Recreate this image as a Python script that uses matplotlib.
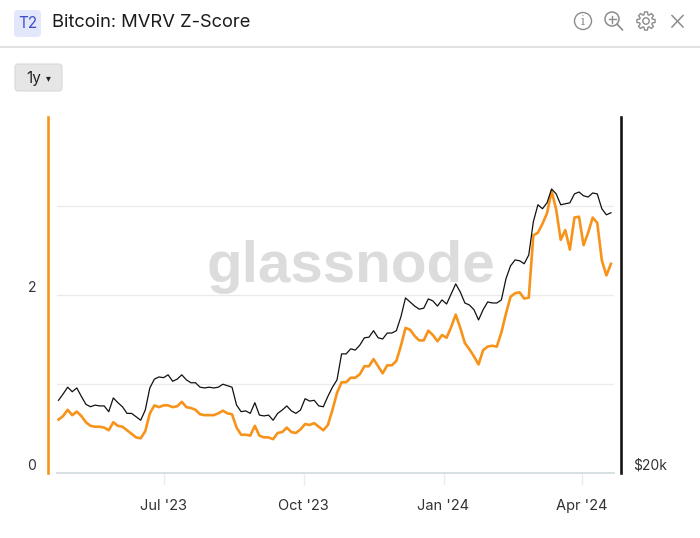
import matplotlib
matplotlib.use('Agg')
import matplotlib.pyplot as plt
import matplotlib.ticker as mticker
from matplotlib.patches import FancyBboxPatch, Circle, Polygon
from matplotlib.transforms import ScaledTranslation
import pandas as pd
import numpy as np

plt.rcParams['font.family'] = ['Inter', 'DejaVu Sans']

start_date = '2023-04-23'
sample_step = '3D'
x_start, x_end = '2023-04-22', '2024-04-22'

# MVRV Z-Score (left axis, orange)
zscore = [0.60, 0.64, 0.71, 0.65, 0.69, 0.64, 0.57, 0.53, 0.52, 0.52,
          0.51, 0.48, 0.57, 0.53, 0.52, 0.48, 0.44, 0.40, 0.39, 0.47,
          0.67, 0.76, 0.74, 0.76, 0.76, 0.74, 0.75, 0.80, 0.74, 0.73,
          0.71, 0.66, 0.65, 0.65, 0.65, 0.67, 0.70, 0.67, 0.66, 0.51,
          0.43, 0.43, 0.42, 0.53, 0.42, 0.40, 0.40, 0.38, 0.45, 0.46,
          0.51, 0.46, 0.45, 0.49, 0.55, 0.54, 0.56, 0.52, 0.48, 0.54,
          0.71, 0.90, 1.02, 1.02, 1.07, 1.07, 1.11, 1.20, 1.20, 1.28,
          1.20, 1.12, 1.21, 1.21, 1.26, 1.43, 1.63, 1.61, 1.54, 1.49,
          1.49, 1.60, 1.55, 1.48, 1.55, 1.52, 1.64, 1.78, 1.63, 1.46,
          1.39, 1.31, 1.22, 1.38, 1.42, 1.43, 1.42, 1.58, 1.79, 1.98,
          2.02, 2.03, 1.96, 1.97, 2.67, 2.70, 2.80, 2.92, 3.17, 2.96,
          2.62, 2.73, 2.51, 2.87, 2.88, 2.56, 2.70, 2.87, 2.81, 2.39,
          2.22, 2.35]

# BTC price in $ thousands (right log axis, black)
price_k = [27.8, 28.6, 29.5, 28.9, 29.4, 28.3, 27.3, 27.0, 27.2, 27.1,
           27.1, 26.4, 28.1, 27.5, 27.0, 26.2, 26.2, 25.8, 25.4, 26.6,
           29.4, 30.6, 30.9, 30.8, 31.2, 30.3, 30.6, 31.2, 30.5, 30.1,
           30.1, 29.5, 29.4, 29.5, 29.4, 29.5, 29.9, 29.7, 29.5, 27.2,
           26.4, 26.5, 26.2, 27.5, 26.0, 25.9, 26.0, 25.4, 26.2, 26.6,
           27.1, 26.5, 26.2, 26.6, 28.0, 27.7, 27.8, 27.1, 27.0, 28.3,
           29.5, 30.5, 34.3, 34.3, 35.1, 34.9, 35.7, 36.9, 37.0, 38.1,
           36.9, 36.7, 37.7, 37.7, 38.1, 40.6, 44.2, 43.4, 42.6, 42.0,
           42.2, 44.0, 43.6, 42.6, 43.8, 43.0, 45.0, 47.1, 45.4, 43.2,
           42.8, 41.9, 40.0, 41.9, 43.4, 43.2, 43.2, 43.8, 48.2, 51.1,
           52.5, 52.3, 51.6, 53.7, 62.4, 67.4, 66.2, 68.0, 72.4, 70.8,
           67.4, 67.7, 68.0, 70.8, 71.4, 70.2, 69.8, 71.1, 70.8, 66.2,
           64.4, 65.0]

x_tick_dates = ['2023-07-01', '2023-10-01', '2024-01-01', '2024-04-01']
x_tick_labels = ["Jul '23", "Oct '23", "Jan '24", "Apr '24"]
z_ticks = [0, 2]
z_tick_labels = ['0', '2']
z_grid = [1, 2, 3]
z_range = (0, 4)
price_ticks = [20000]
price_tick_labels = ['$20k']
price_range = (20000, 100300)

title = 'Bitcoin: MVRV Z-Score'
badge = 'T2'
range_button = '1y'
watermark = 'glassnode'

ORANGE = '#f7931a'

# ---------------- figure ----------------
W, H = 700, 538
fig = plt.figure(figsize=(W / 100, H / 100), dpi=100)
fig.patch.set_facecolor('white')


def fbox(x0, y0, x1, y1):
    return [x0 / W, 1 - y1 / H, (x1 - x0) / W, (y1 - y0) / H]


# overlay in pixel coords for header widgets
ov = fig.add_axes([0, 0, 1, 1])
ov.set_xlim(0, W)
ov.set_ylim(H, 0)
ov.axis('off')

ov.add_patch(FancyBboxPatch((14, 10), 27, 27, boxstyle='round,pad=0,rounding_size=4',
                            fc='#e3e7fc', ec='none'))
ov.text(27.5, 23.5, badge, ha='center', va='center', fontsize=11, color='#3b50c4')
ov.text(52, 22.5, title, ha='left', va='center', fontsize=13.2, color='#1b1b1b')

icon_c = '#8c8c8c'
# info
ov.add_patch(Circle((583, 21), 8.5, fill=False, ec=icon_c, lw=1))
ov.text(583, 21.5, 'i', ha='center', va='center', fontsize=9, color=icon_c,
        family='DejaVu Serif')
# zoom-in magnifier
ov.add_patch(Circle((612, 19), 7, fill=False, ec=icon_c, lw=1.1))
ov.plot([617, 622.5], [24, 30], color=icon_c, lw=1.2, solid_capstyle='round')
ov.plot([608.5, 615.5], [19, 19], color=icon_c, lw=1)
ov.plot([612, 612], [15.5, 22.5], color=icon_c, lw=1)
# gear outline
gx, gy = 646, 21
pts = []
for i in range(8):
    a0 = np.deg2rad(i * 45)
    for da, r in [(-17, 6.6), (-9, 9.2), (9, 9.2), (17, 6.6)]:
        a = a0 + np.deg2rad(da)
        pts.append((gx + r * np.cos(a), gy + r * np.sin(a)))
ov.add_patch(Polygon(pts, closed=True, fill=False, ec=icon_c, lw=1, joinstyle='round'))
ov.add_patch(Circle((gx, gy), 3.2, fill=False, ec=icon_c, lw=1))
# close
ov.plot([672, 683], [15.5, 27], color=icon_c, lw=1.1)
ov.plot([683, 672], [15.5, 27], color=icon_c, lw=1.1)
ov.plot([0, W], [47, 47], color='#e2e2e2', lw=1.5)

ov.add_patch(FancyBboxPatch((15, 64), 47, 27, boxstyle='round,pad=0,rounding_size=3',
                            fc='#e6e6e6', ec='#d9d9d9', lw=0.8))
ov.text(26, 78, range_button, ha='left', va='center', fontsize=11, color='#222222')
ov.text(48, 78.5, '\u25be', ha='center', va='center', fontsize=7, color='#222222',
        family='DejaVu Sans')

# ---------------- main chart ----------------
dates = pd.date_range(start_date, periods=len(zscore), freq=sample_step)

ax = fig.add_axes(fbox(57, 117, 614, 473))
ax.set_facecolor('none')
ax.set_xlim(pd.Timestamp(x_start), pd.Timestamp(x_end))
ax.set_ylim(*z_range)
for v in z_grid:
    ax.axhline(v, color='#ebebeb', lw=1, zorder=0)

ax.text(0.528, 0.58, watermark, transform=ax.transAxes, ha='center', va='center',
        fontsize=42, fontweight='bold', color='#dcdcdc', family='Liberation Sans',
        zorder=1)

ax.plot(dates, zscore, color=ORANGE, lw=1.9, zorder=3, solid_joinstyle='round')

px = 72 / 100  # points per pixel
for s in ['top', 'right']:
    ax.spines[s].set_visible(False)
ax.spines['left'].set_position(('outward', 9 * px))
ax.spines['left'].set_color(ORANGE)
ax.spines['left'].set_linewidth(2.6 * px)
ax.spines['bottom'].set_color('#d3dde1')
ax.spines['bottom'].set_linewidth(1.3)

ax.set_yticks(z_ticks)
ax.set_yticklabels(z_tick_labels)
ax.tick_params(axis='y', length=0, pad=12 * px, labelsize=10, labelcolor='#333333')
ax.set_xticks([pd.Timestamp(d) for d in x_tick_dates])
ax.set_xticklabels(x_tick_labels)
ax.tick_params(axis='x', length=12 * px, width=1, color='#ececec', pad=14 * px,
               labelsize=10.5, labelcolor='#333333')

ax2 = ax.twinx()
ax2.set_yscale('log')
ax2.set_ylim(*price_range)
ax2.plot(dates, np.array(price_k) * 1000, color='#111111', lw=0.9, zorder=4)
for s in ['top', 'left', 'bottom']:
    ax2.spines[s].set_visible(False)
ax2.spines['right'].set_position(('outward', 7 * px))
ax2.spines['right'].set_color('#111111')
ax2.spines['right'].set_linewidth(2.6 * px)
ax2.yaxis.set_major_locator(mticker.FixedLocator(price_ticks))
ax2.yaxis.set_minor_locator(mticker.NullLocator())
ax2.yaxis.set_major_formatter(mticker.FixedFormatter(price_tick_labels))
ax2.tick_params(axis='y', which='both', length=0, pad=12 * px, labelsize=10,
                labelcolor='#333333')

shift = ScaledTranslation(0, 9 / 100, fig.dpi_scale_trans)
for lab in ax.get_yticklabels() + ax2.get_yticklabels():
    lab.set_transform(lab.get_transform() + shift)

fig.savefig('out.png', dpi=100, facecolor='white')
